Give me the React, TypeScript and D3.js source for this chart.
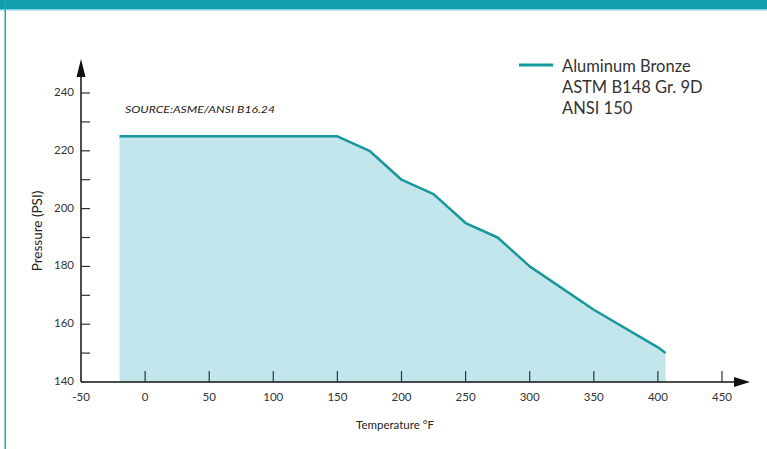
import React from 'react';
import { scaleLinear, line, area } from 'd3';

const temps = [-20, 150, 175, 200, 225, 250, 275, 300, 350, 400, 406]
const pressures = [225, 225, 220, 210, 205, 195, 190, 180, 165, 152, 150]
const xTicks = [0, 50, 100, 150, 200, 250, 300, 350, 400, 450]
const xLabels = [-50, 0, 50, 100, 150, 200, 250, 300, 350, 400, 450]
const yLabels = [140, 160, 180, 200, 220, 240]
const yMinor = [150, 170, 190, 210, 230]
const legendLines = ['Aluminum Bronze', 'ASTM B148 Gr. 9D', 'ANSI 150']

const width = 767
const height = 449
const teal = '#17989c'
const font = 'Lato, "Open Sans", sans-serif'

function App() {
  const x = scaleLinear().domain([-50, 450]).range([81, 722])
  const y = scaleLinear().domain([140, 240]).range([382, 93])
  const pts = temps.map((t, i) => [t, pressures[i]] as [number, number])

  const linePath = line<[number, number]>().x(d => x(d[0])).y(d => y(d[1]))(pts)!
  const areaPath = area<[number, number]>().x(d => x(d[0])).y0(y(140)).y1(d => y(d[1]))(pts)!

  const axisX = x(-50)
  const axisY = y(140)

  return (
    <svg width={width} height={height} style={{ position: 'fixed', top: 0, left: 0, background: '#fff' }}>
      <rect x={0} y={0} width={width} height={9} fill="#139eae" />
      <rect x={0} y={9} width={width} height={1.5} fill="#7fd0d8" />
      <rect x={4.5} y={0} width={1.5} height={height} fill="#1fa5b3" />

      <path d={areaPath} fill="#c3e5ec" />
      <path d={linePath} fill="none" stroke={teal} strokeWidth={2.5} strokeLinejoin="round" />

      {/* axes */}
      <line x1={axisX} x2={axisX} y1={axisY} y2={72} stroke="#111" strokeWidth={1.5} />
      <path d={`M${axisX},59 L${axisX - 4.5},77 L${axisX + 4.5},77 Z`} fill="#111" />
      <line x1={axisX} x2={736} y1={axisY} y2={axisY} stroke="#111" strokeWidth={1.5} />
      <path d={`M750,${axisY} L734,${axisY - 5} L734,${axisY + 5} Z`} fill="#111" />

      {xTicks.map(t => (
        <line key={'xt' + t} x1={x(t)} x2={x(t)} y1={axisY} y2={axisY - 11} stroke="#333" strokeWidth={1.2} />
      ))}
      {xLabels.map(t => (
        <text key={'xl' + t} x={x(t)} y={398} textAnchor="middle" dominantBaseline="middle"
          fontFamily={font} fontSize={11.5} fill="#333">{t}</text>
      ))}
      {[...yLabels.slice(1), ...yMinor].map(v => (
        <line key={'yt' + v} x1={axisX} x2={axisX + 9} y1={y(v)} y2={y(v)} stroke="#333" strokeWidth={1.2} />
      ))}
      {yLabels.map(v => (
        <text key={'yl' + v} x={74} y={y(v)} textAnchor="end" dominantBaseline="middle"
          fontFamily={font} fontSize={11.5} fill="#333">{v}</text>
      ))}

      <text x={395} y={426} textAnchor="middle" dominantBaseline="middle" fontFamily={font} fontSize={11.5} fill="#222">
        Temperature °F
      </text>
      <text transform="translate(39,231) rotate(-90)" textAnchor="middle" dominantBaseline="middle"
        fontFamily={font} fontSize={13.5} fill="#222">Pressure (PSI)</text>

      <text x={125} y={111} dominantBaseline="middle" fontFamily={font} fontSize={9.5} fontStyle="italic"
        fill="#222" textLength={150} lengthAdjust="spacingAndGlyphs">SOURCE:ASME/ANSI B16.24</text>

      <line x1={519} x2={553} y1={65} y2={65} stroke={teal} strokeWidth={3} />
      {legendLines.map((s, i) => (
        <text key={s} x={562} y={68 + i * 21} dominantBaseline="middle" fontFamily={font} fontSize={16.5} fill="#333">{s}</text>
      ))}
    </svg>
  );
}

export default App;
